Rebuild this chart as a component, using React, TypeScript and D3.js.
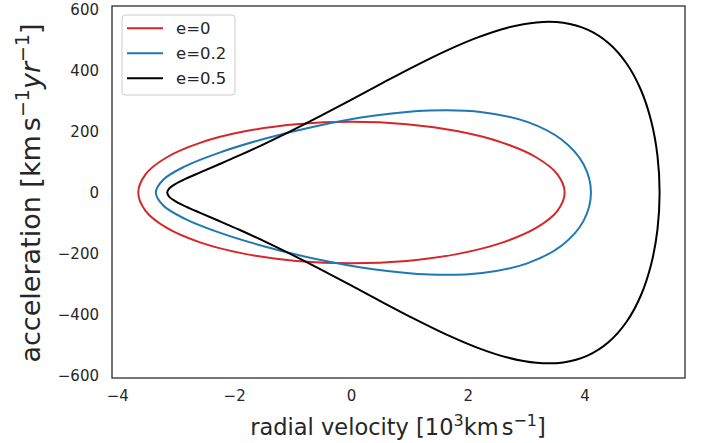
import * as d3 from 'd3';

// tick values
const xTicks = [-4, -2, 0, 2, 4];
const yTicks = [-600, -400, -200, 0, 200, 400, 600];

// upper halves of the phase curves:
// [radial velocity (10^3 km/s), acceleration (km/s/yr)], right end -> left end.
// the curves are mirror images about acceleration = 0
const e0Upper: [number, number][] = [
  [3.65, 0], [3.526, 60.0], [3.161, 116.0], [2.581, 164.0], [1.825, 200.9],
  [0.945, 224.1], [0, 232], [-0.945, 224.1], [-1.825, 200.9], [-2.581, 164.0],
  [-3.161, 116.0], [-3.526, 60.0], [-3.65, 0],
];

const e02Upper: [number, number][] = [
  [4.1, 0], [3.973, 92.7], [3.601, 173.2], [3.009, 231.9], [2.238, 263.7],
  [1.339, 268.9], [0.375, 251.7], [-0.589, 218.6], [-1.488, 176.6], [-2.259, 131.2],
  [-2.851, 86.0], [-3.223, 42.4], [-3.35, 0],
];

const e05Upper: [number, number][] = [
  [5.275, 0], [5.239, 120.5], [5.131, 234.8], [4.954, 337.4], [4.71, 423.5],
  [4.404, 489.9], [4.041, 534.4], [3.626, 556.8], [3.168, 558.2], [2.673, 540.9],
  [2.151, 508.2], [1.61, 464.1], [1.06, 412.5], [0.51, 357.3], [-0.031, 302.0],
  [-0.553, 249.2], [-1.048, 201.0], [-1.506, 158.4], [-1.92, 121.9], [-2.284, 91.4],
  [-2.59, 66.3], [-2.834, 45.7], [-3.011, 28.5], [-3.119, 13.7], [-3.155, 0],
];

const seriesNames = ['e=0', 'e=0.2', 'e=0.5'];
const seriesColors = ['#d62728', '#1f77b4', '#000000'];
const seriesUpper = [e0Upper, e02Upper, e05Upper];

const width = 710;
const height = 443;
const margin = { top: 6, right: 25, bottom: 65, left: 112 };
const textColor = '#262626';
const font = 'DejaVu Sans, sans-serif';

const fmt = (v: number) => (v < 0 ? '\u2212' + Math.abs(v) : String(v));

// close the loop: upper half, then its mirror going back
const closeLoop = (upper: [number, number][]) => {
  const lower = upper.slice(1, -1).reverse().map(([v, a]) => [v, -a] as [number, number]);
  return [...upper, ...lower];
};

export default function App() {
  const x = d3.scaleLinear().domain([-4.1, 5.71]).range([margin.left, width - margin.right]);
  const y = d3.scaleLinear().domain([-608, 612]).range([height - margin.bottom, margin.top]);

  const line = d3
    .line<[number, number]>()
    .x((d) => x(d[0]))
    .y((d) => y(d[1]))
    .curve(d3.curveCatmullRomClosed.alpha(0.5));

  const plotW = width - margin.left - margin.right;
  const plotH = height - margin.top - margin.bottom;

  return (
    <svg
      width={width}
      height={height}
      style={{ position: 'absolute', left: 0, top: 0, background: '#fff' }}
      fontFamily={font}
    >
      <rect x={0} y={0} width={width} height={height} fill="#fff" />

      {seriesUpper.map((pts, i) => (
        <path
          key={i}
          d={line(closeLoop(pts)) || ''}
          fill="none"
          stroke={seriesColors[i]}
          strokeWidth={2}
          strokeLinejoin="round"
        />
      ))}

      <rect
        x={margin.left}
        y={margin.top}
        width={plotW}
        height={plotH}
        fill="none"
        stroke={textColor}
        strokeWidth={1.25}
      />

      {/* x tick labels */}
      {xTicks.map((t) => (
        <text key={t} x={x(t)} y={height - margin.bottom + 23} textAnchor="middle" fontSize={15} fill={textColor}>
          {fmt(t)}
        </text>
      ))}

      {/* y tick labels */}
      {yTicks.map((t) => (
        <text key={t} x={margin.left - 13} y={y(t) + 5.5} textAnchor="end" fontSize={15} fill={textColor}>
          {fmt(t)}
        </text>
      ))}

      {/* x axis label */}
      <text x={398} y={435} textAnchor="middle" fontSize={22.5} fill={textColor}>
        radial velocity [10
        <tspan dy={-9} fontSize={16}>3</tspan>
        <tspan dy={9}>km</tspan>
        <tspan dx={3}>s</tspan>
        <tspan dy={-9} fontSize={16}>{'\u22121'}</tspan>
        <tspan dy={9}>]</tspan>
      </text>

      {/* y axis label */}
      <text
        transform={`translate(40, ${(margin.top + height - margin.bottom) / 2 + 1}) rotate(-90)`}
        textAnchor="middle"
        fontSize={27}
        fill={textColor}
      >
        acceleration [km
        <tspan dx={4}>s</tspan>
        <tspan dy={-11} fontSize={19}>{'\u22121'}</tspan>
        <tspan dy={11} fontStyle="italic">yr</tspan>
        <tspan dy={-11} fontSize={19}>{'\u22121'}</tspan>
        <tspan dy={11}>]</tspan>
      </text>

      {/* legend */}
      <g>
        <rect x={122} y={15} width={113} height={80} rx={3} fill="#fff" fillOpacity={0.8} stroke="#cccccc" />
        {seriesNames.map((name, i) => (
          <g key={name}>
            <line
              x1={127}
              x2={163}
              y1={28.3 + i * 25}
              y2={28.3 + i * 25}
              stroke={seriesColors[i]}
              strokeWidth={2}
            />
            <text x={176} y={28.3 + i * 25 + 6} fontSize={16.5} fill={textColor}>
              {name}
            </text>
          </g>
        ))}
      </g>
    </svg>
  );
}
